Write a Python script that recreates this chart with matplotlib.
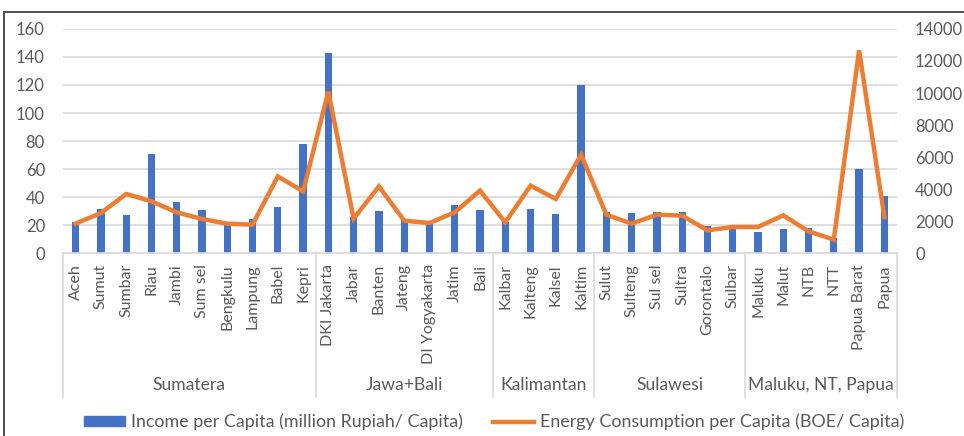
import matplotlib
matplotlib.use("Agg")
import matplotlib.pyplot as plt
import numpy as np
from matplotlib.patches import Rectangle, Patch
from matplotlib.lines import Line2D
import matplotlib.transforms as mtransforms

plt.rcParams['font.family'] = ['Lato', 'DejaVu Sans']

provinces = ["Aceh", "Sumut", "Sumbar", "Riau", "Jambi", "Sum sel", "Bengkulu", "Lampung", "Babel", "Kepri",
             "DKI Jakarta", "Jabar", "Banten", "Jateng", "DI Yogyakarta", "Jatim", "Bali",
             "Kalbar", "Kalteng", "Kalsel", "Kaltim",
             "Sulut", "Sulteng", "Sul sel", "Sultra", "Gorontalo", "Sulbar",
             "Maluku", "Malut", "NTB", "NTT", "Papua Barat", "Papua"]
groups = ["Sumatera", "Jawa+Bali", "Kalimantan", "Sulawesi", "Maluku, NT, Papua"]
group_sizes = [10, 7, 4, 6, 6]

income = [22, 31.7, 27.1, 70.5, 36.2, 31, 20, 24.3, 32.9, 78,
          143, 25.7, 30.2, 23.8, 21.4, 34.3, 31,
          22, 31.7, 27.9, 120.2,
          29, 28.6, 29.3, 29.3, 19, 19.8,
          14.8, 17.4, 17.9, 10.7, 60, 41]
energy = [1840, 2500, 3690, 3230, 2540, 2125, 1830, 1770, 4790, 3850,
          10100, 2146, 4167, 2020, 1875, 2540, 3900,
          1917, 4210, 3375, 6146,
          2396, 1833, 2396, 2333, 1417, 1625,
          1625, 2354, 1354, 833, 12670, 2250]

left_ticks = list(range(0, 161, 20))
right_ticks = list(range(0, 14001, 2000))

W, H = 964, 436
fig = plt.figure(figsize=(W/100, H/100), dpi=100)
ax = fig.add_axes([63/W, 1-253/H, (897-63)/W, (253-29)/H])
ax2 = ax.twinx()

blue = '#4472C4'
orange = '#ED7D31'
grey_txt = '#595959'
grid_c = '#D9D9D9'

x = np.arange(len(provinces))
ax.bar(x, income, width=0.29, color=blue, zorder=2)
ax2.plot(x, energy, color=orange, lw=3.2, zorder=3, solid_joinstyle='miter')

ax.set_xlim(-0.5, len(provinces)-0.5)
ax.set_ylim(0, 160)
ax2.set_ylim(0, 14000)
ax.set_yticks(left_ticks)
ax2.set_yticks(right_ticks)
ax.yaxis.grid(True, color=grid_c, lw=1.2, zorder=0)
ax.set_axisbelow(True)
for a in (ax, ax2):
    for s in a.spines.values():
        s.set_visible(False)
ax.spines['bottom'].set_visible(True)
ax.spines['bottom'].set_color(grid_c)
ax.spines['bottom'].set_linewidth(1.2)

ax.tick_params(axis='y', length=0, pad=13, labelsize=12, labelcolor=grey_txt)
ax2.tick_params(axis='y', length=0, pad=13, labelsize=12, labelcolor=grey_txt)
ax.set_xticks(x)
ax.set_xticklabels(provinces, rotation=90, fontsize=11.5, color=grey_txt)
ax.tick_params(axis='x', length=0, pad=8)

# group separators and labels
trans = mtransforms.blended_transform_factory(ax.transData, ax.transAxes)
bottom_sep = -(397-253)/(253-29)
bounds = np.concatenate([[0], np.cumsum(group_sizes)]) - 0.5
for b in bounds:
    ax.plot([b, b], [0, bottom_sep], transform=trans, color=grid_c, lw=1.2, clip_on=False)
label_y = -(385-253)/(253-29)
for g, s0, s1 in zip(groups, bounds[:-1], bounds[1:]):
    ax.text((s0+s1)/2, label_y, g, transform=trans, ha='center', va='center',
            fontsize=12.6, color=grey_txt)

# legend
handles = [Patch(color=blue), Line2D([0], [0], color=orange, lw=3.2)]
labels = ["Income per Capita (million Rupiah/ Capita)", "Energy Consumption per Capita (BOE/ Capita)"]
fig.legend(handles, labels, loc='center', bbox_to_anchor=(494/W, 1-422/H), ncol=2, frameon=False,
           fontsize=12.9, labelcolor=grey_txt, handlelength=2.3, handleheight=0.45,
           handletextpad=0.3, columnspacing=1.7)

# outer frame
fig.add_artist(Rectangle((4/W, -0.1), 1.2, 1.1-12/H, transform=fig.transFigure,
                         fill=False, edgecolor='#404040', lw=1.3))

fig.savefig('out.png', dpi=100)
